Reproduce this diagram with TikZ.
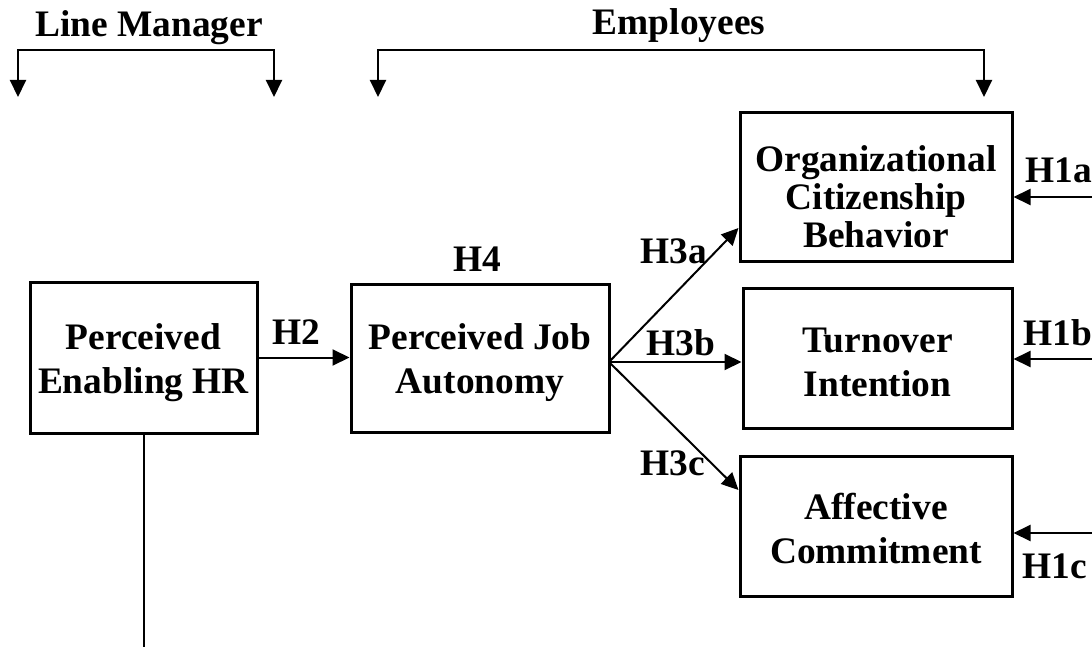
\documentclass[tikz,border=0pt]{standalone}
\usepackage{fontspec}
\setmainfont{Liberation Serif}
\usetikzlibrary{arrows.meta,calc}
\begin{document}
\begin{tikzpicture}[x=0.5pt,y=-0.5pt,
  txt/.style={font=\fontsize{18.7}{22}\selectfont\bfseries, inner sep=0pt},
  lbl/.style={txt, anchor=base},
  box/.style={draw, line width=1.5pt},
  btxt/.style={txt, align=center},
  conn/.style={line width=1pt, -{Triangle[length=8.5pt,width=8pt]}},
  brk/.style={line width=1pt, {Triangle[length=8.5pt,width=8pt]}-{Triangle[length=8.5pt,width=8pt]}}
]
\useasboundingbox (0,0) rectangle (1092,647);
% boxes
\node[box, minimum width=227*0.5pt, minimum height=151*0.5pt] (pehr) at (143.5,357.5) {};
\node[box, minimum width=258*0.5pt, minimum height=148*0.5pt] (pja) at (480,358) {};
\node[box, minimum width=272*0.5pt, minimum height=148*0.5pt] (ocb) at (876,187) {};
\node[box, minimum width=269*0.5pt, minimum height=140*0.5pt] (ti) at (877.5,358) {};
\node[box, minimum width=272*0.5pt, minimum height=140*0.5pt] (ac) at (876,526) {};
% box texts
\node[btxt] (pehrT) at ($(pehr)+(0,5.5)$) {Perceived\\Enabling HR};
\node[btxt] (pjaT) at ($(pja)+(0,5)$) {Perceived Job\\Autonomy};
\node[btxt, font=\fontsize{18.7}{19}\selectfont\bfseries] (ocbT) at ($(ocb)+(0,10)$) {Organizational\\Citizenship\\Behavior};
\node[btxt] (tiT) at ($(ti)+(0,4)$) {Turnover\\Intention};
\node[btxt] (acT) at ($(ac)+(0,3)$) {Affective\\Commitment};
% labels
\node[lbl] (lm) at (149,37) {Line Manager};
\node[lbl] (emp) at (679,35) {Employees};
\node[lbl] (h2) at (296,344) {H2};
\node[lbl] (h4) at (477,271) {H4};
\node[lbl] (h3a) at (674,263) {H3a};
\node[lbl] (h3b) at (681,355) {H3b};
\node[lbl] (h3c) at (673,475) {H3c};
\node[lbl, anchor=base west] (h1a) at (1025,182) {H1a};
\node[lbl, anchor=base west] (h1b) at (1023,345) {H1b};
\node[lbl, anchor=base west] (h1c) at (1022,578) {H1c};
% brackets
\coordinate (lmL) at (18,97);
\coordinate (lmM) at (146,50);
\coordinate (lmR) at (274,97);
\coordinate (emL) at (378,97);
\coordinate (emM) at (680,50);
\coordinate (emR) at (984,97);
\draw[brk] (lmL) |- (lmM) -| (lmR);
\draw[brk] (emL) |- (emM) -| (emR);
% connectors
\draw[conn] (pehr.east) -- (pehr.east -| pja.west);
\coordinate (src) at (609,362);
\draw[conn] (src) -- ($(ocb.west)+(0,41)$);
\draw[conn] (src) -- (src -| ti.west);
\draw[conn] (src) -- ($(ac.west)+(0,-36)$);
\coordinate (ea) at (1092,197);
\coordinate (eb) at (1092,359);
\coordinate (ec) at (1092,533);
\draw[conn] (ea) -- (ea -| ocb.east);
\draw[conn] (eb) -- (eb -| ti.east);
\draw[conn] (ec) -- (ec -| ac.east);
\coordinate (bot) at (143.5,647);
\draw[line width=1pt] (pehr.south) -- (bot);
\end{tikzpicture}
\end{document}
